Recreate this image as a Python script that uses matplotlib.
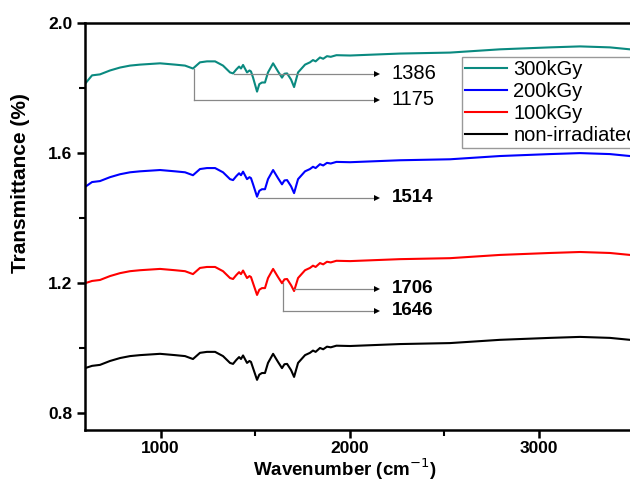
import matplotlib
matplotlib.use("Agg")
import matplotlib.pyplot as plt
from matplotlib.ticker import MultipleLocator, FixedLocator

plt.rcParams['font.family'] = ['Liberation Sans', 'DejaVu Sans']

wavenumber = [600, 637, 679, 732, 785, 838, 891, 997, 1076, 1129, 1171, 1208, 1245, 1288,
              1330, 1367, 1383, 1400, 1415, 1425, 1436, 1457, 1470, 1478, 1489, 1510, 1522,
              1536, 1552, 1568, 1595, 1621, 1642, 1655, 1669, 1690, 1706, 1727, 1764, 1790,
              1806, 1820, 1843, 1860, 1880, 1900, 1930, 2002, 2266, 2531, 2795, 3060, 3219,
              3377, 3483, 3560]

t_300 = [1.812, 1.838, 1.841, 1.853, 1.862, 1.868, 1.871, 1.875, 1.871, 1.868, 1.859, 1.878,
         1.881, 1.881, 1.868, 1.847, 1.844, 1.856, 1.865, 1.859, 1.870, 1.847, 1.853, 1.850,
         1.831, 1.788, 1.811, 1.816, 1.816, 1.847, 1.875, 1.850, 1.831, 1.843, 1.844, 1.825,
         1.802, 1.847, 1.871, 1.878, 1.885, 1.881, 1.893, 1.889, 1.897, 1.895, 1.900, 1.899,
         1.905, 1.908, 1.918, 1.924, 1.927, 1.924, 1.918, 1.913]

t_200 = [1.495, 1.510, 1.513, 1.525, 1.534, 1.540, 1.543, 1.547, 1.543, 1.540, 1.531, 1.550,
         1.553, 1.553, 1.540, 1.519, 1.516, 1.528, 1.537, 1.531, 1.542, 1.519, 1.525, 1.522,
         1.503, 1.465, 1.483, 1.488, 1.488, 1.519, 1.547, 1.522, 1.503, 1.515, 1.516, 1.497,
         1.476, 1.519, 1.543, 1.550, 1.557, 1.553, 1.565, 1.561, 1.569, 1.567, 1.572, 1.571,
         1.577, 1.580, 1.590, 1.596, 1.599, 1.596, 1.590, 1.585]

t_100 = [1.199, 1.206, 1.209, 1.221, 1.230, 1.236, 1.239, 1.243, 1.239, 1.236, 1.227, 1.246,
         1.249, 1.249, 1.236, 1.215, 1.212, 1.224, 1.233, 1.227, 1.238, 1.215, 1.221, 1.218,
         1.199, 1.163, 1.179, 1.184, 1.184, 1.215, 1.243, 1.218, 1.199, 1.211, 1.212, 1.193,
         1.175, 1.215, 1.239, 1.246, 1.253, 1.249, 1.261, 1.257, 1.265, 1.263, 1.268, 1.267,
         1.273, 1.276, 1.286, 1.292, 1.295, 1.292, 1.286, 1.281]

t_0 = [0.938, 0.945, 0.948, 0.960, 0.969, 0.975, 0.978, 0.982, 0.978, 0.975, 0.966, 0.985,
       0.988, 0.988, 0.975, 0.954, 0.951, 0.963, 0.972, 0.966, 0.977, 0.954, 0.960, 0.957,
       0.938, 0.902, 0.918, 0.923, 0.923, 0.954, 0.982, 0.957, 0.938, 0.950, 0.951, 0.932,
       0.911, 0.954, 0.978, 0.985, 0.992, 0.988, 1.000, 0.996, 1.004, 1.002, 1.007, 1.006,
       1.012, 1.015, 1.025, 1.031, 1.034, 1.031, 1.025, 1.020]

series = [t_300, t_200, t_100, t_0]
labels = ['300kGy', '200kGy', '100kGy', 'non-irradiated']
colors = ['#0a8a80', '#0000ff', '#ff0000', '#000000']

# peak labels: (peak position, start y, line y, bold)
peaks = ['1386', '1175', '1514', '1706', '1646']
peak_start = [1.843, 1.859, 1.462, 1.182, 1.200]
peak_line = [1.843, 1.763, 1.462, 1.182, 1.114]
peak_bold = [False, False, True, True, True]
arrow_end = 2161

fig = plt.figure(figsize=(6.3, 4.82), dpi=100)
ax = fig.add_axes([0.135, 0.108, 1.02, 0.845])

for y, lab, c in zip(series, labels, colors):
    ax.plot(wavenumber, y, color=c, lw=1.5, label=lab)

for p, ys, yl, b in zip(peaks, peak_start, peak_line, peak_bold):
    x0 = float(p)
    if ys != yl:
        ax.plot([x0, x0], [ys, yl], color='#888888', lw=0.9)
    ax.plot([x0, arrow_end - 15], [yl, yl], color='#888888', lw=0.9)
    ax.plot([arrow_end - 18], [yl], marker='>', color='k', ms=5, mew=0)
    ax.text(2224, yl, p, fontsize=13.5 if b else 14.5, va='center',
            fontweight='bold' if b else 'normal')

ax.set_xlim(600, 4000)
ax.set_ylim(0.748, 2.0)
ax.xaxis.set_major_locator(FixedLocator([1000, 2000, 3000]))
ax.xaxis.set_minor_locator(FixedLocator([1500, 2500, 3500]))
ax.yaxis.set_major_locator(MultipleLocator(0.4))
ax.yaxis.set_minor_locator(MultipleLocator(0.2))
ax.yaxis.set_major_formatter(plt.FormatStrFormatter('%.1f'))
ax.tick_params(which='major', direction='out', length=6, width=1.8, labelsize=12.5, pad=3)
ax.tick_params(axis='x', which='major', pad=2)
ax.tick_params(which='minor', direction='out', length=4, width=1.5)
ax.tick_params(top=False, right=False)
for lab in ax.get_xticklabels() + ax.get_yticklabels():
    lab.set_fontweight('bold')
for s in ax.spines.values():
    s.set_linewidth(1.8)

ax.set_xlabel('Wavenumber (cm$^{-1}$)', fontsize=13.5, fontweight='bold')
ax.set_ylabel('Transmittance (%)', fontsize=15, fontweight='bold')
ax.xaxis.set_label_coords((345 - 85) / 642.6, -0.064)
ax.yaxis.set_label_coords(-0.0856, 0.607)

leg = ax.legend(loc='upper left', bbox_to_anchor=(462 / 630, 1 - 57 / 482),
                bbox_transform=fig.transFigure, fontsize=14.5, frameon=True,
                fancybox=False, edgecolor='#999999', framealpha=1,
                handlelength=2.1, handletextpad=0.3, labelspacing=0.15,
                borderpad=0.15, borderaxespad=0)
leg.get_frame().set_linewidth(1.0)

fig.savefig('out.png', dpi=100)
